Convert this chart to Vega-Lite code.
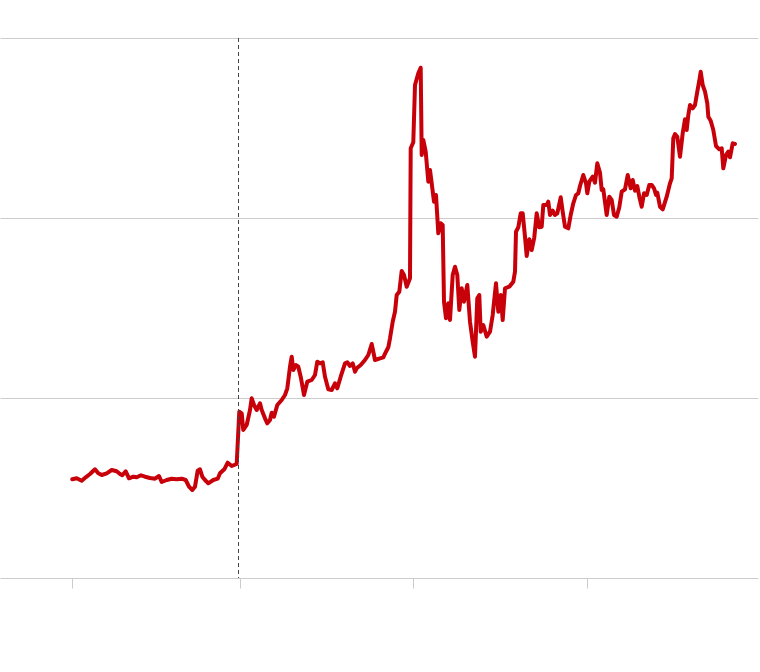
{
  "$schema": "https://vega.github.io/schema/vega-lite/v6.json",
  "width": 758,
  "height": 540,
  "autosize": {"type": "none"},
  "padding": {"top": 38, "left": 0, "right": 2, "bottom": 94},
  "background": "white",
  "config": {"view": {"stroke": null}},
  "layer": [
    {
      "data": {"values": [
        {"t":72.3,"v":98.7},{"t":76.7,"v":99.7},{"t":81.7,"v":97.3},{"t":85.7,"v":100.7},{"t":90,"v":104},{"t":95,"v":108.7},{"t":98.3,"v":104.7},{"t":101.7,"v":103},{"t":106.7,"v":104.7},{"t":111.7,"v":108},{"t":116.7,"v":106.7},{"t":120,"v":104},{"t":122.3,"v":102.7},{"t":125.7,"v":106.7},{"t":129,"v":99.7},{"t":133.3,"v":101.3},{"t":136.7,"v":100.7},{"t":141,"v":102.7},{"t":145,"v":101.3},{"t":150,"v":100},{"t":155,"v":99.3},{"t":159,"v":102},{"t":161.7,"v":96},{"t":166.7,"v":98},{"t":171.7,"v":99.3},{"t":176.7,"v":98.7},{"t":181.7,"v":99.3},{"t":185.7,"v":98},{"t":189,"v":91.3},{"t":192.3,"v":88},{"t":195,"v":91.3},{"t":197.7,"v":107.3},{"t":200,"v":108.7},{"t":202.3,"v":101.3},{"t":205,"v":98},{"t":208.3,"v":94.7},{"t":213.3,"v":98},{"t":217.7,"v":99.3},{"t":220,"v":104.7},{"t":224.3,"v":108.7},{"t":227.7,"v":115.3},{"t":231.7,"v":112},{"t":236.7,"v":114},
        {"t":239.3,"v":166.3},{"t":241.7,"v":164.7},{"t":243.3,"v":148},{"t":246.7,"v":153},{"t":250,"v":168},{"t":251.7,"v":179.7},{"t":254,"v":173},{"t":256.7,"v":168},{"t":260,"v":174.7},{"t":261.7,"v":168},{"t":265,"v":159.7},{"t":267.3,"v":154.7},{"t":270,"v":158},{"t":271.7,"v":165.3},{"t":274,"v":161.3},{"t":277.3,"v":173},{"t":281.7,"v":178},{"t":285,"v":183},{"t":287.3,"v":189.7},{"t":290,"v":211.3},{"t":291.7,"v":221.3},{"t":293.3,"v":208},{"t":296,"v":213},{"t":298.3,"v":211.3},{"t":300.7,"v":201.3},{"t":304,"v":183},{"t":307.3,"v":196.3},{"t":311.7,"v":198},{"t":315,"v":203},{"t":317.3,"v":216.3},{"t":320,"v":214.7},{"t":322.7,"v":215.7},{"t":325,"v":201.3},{"t":328.3,"v":188.7},{"t":331.7,"v":188},{"t":335,"v":194.7},{"t":337.3,"v":189.7},{"t":340.7,"v":201.3},{"t":345,"v":214.7},{"t":347.3,"v":215.7},{"t":350,"v":212},{"t":352.7,"v":214.7},{"t":355,"v":206.3},{"t":356.7,"v":209.7},{"t":360.7,"v":213},{"t":365,"v":218},{"t":368.3,"v":223},{"t":371.7,"v":234},{"t":375,"v":218},{"t":380,"v":219.7},{"t":383.3,"v":220.7},{"t":386,"v":226.3},{"t":388.3,"v":230.7},{"t":390,"v":239.7},
        {"t":392.7,"v":256.3},{"t":395,"v":266.3},{"t":396.7,"v":283},{"t":399.3,"v":286.3},{"t":401.7,"v":307},{"t":404,"v":303},{"t":406.7,"v":291.3},{"t":410,"v":299.7},{"t":410.7,"v":429.7},{"t":413.3,"v":435.7},{"t":415,"v":493},{"t":418.3,"v":504.7},{"t":420.7,"v":510.3},{"t":421.7,"v":423},{"t":423.3,"v":438},{"t":425.7,"v":426.3},{"t":428.3,"v":396.3},{"t":430,"v":408},{"t":431.7,"v":394.7},{"t":434,"v":376.3},{"t":436,"v":383},{"t":438.3,"v":344.7},{"t":440.7,"v":354.7},{"t":442.7,"v":353},{"t":444,"v":276.3},{"t":446,"v":259.7},{"t":448.3,"v":274.7},{"t":450,"v":258},{"t":452.7,"v":303},{"t":455,"v":311.3},{"t":457.3,"v":303},{"t":459.3,"v":268},{"t":461.7,"v":289.7},{"t":464,"v":276.3},{"t":467.3,"v":293},{"t":470,"v":256.3},{"t":472.7,"v":236.3},{"t":475,"v":221.3},{"t":477.3,"v":279.7},{"t":479.3,"v":283},{"t":480.7,"v":246.3},{"t":483.3,"v":253},{"t":486.7,"v":241.3},{"t":490,"v":246.3},{"t":492.7,"v":263},{"t":496,"v":294.7},{"t":498.3,"v":266.3},{"t":500.7,"v":283},{"t":502.7,"v":258},{"t":505,"v":289.7},{"t":509.3,"v":291.3},{"t":513.3,"v":296.3},{"t":515,"v":306.3},{"t":516,"v":346.3},{"t":518.3,"v":350.7},
        {"t":520.7,"v":364.7},{"t":522.7,"v":364.7},{"t":525,"v":341.3},{"t":526.7,"v":322},{"t":529.3,"v":338.7},{"t":531.7,"v":328},{"t":534.3,"v":340.7},{"t":536.7,"v":364.7},{"t":539.3,"v":350.7},{"t":541.7,"v":351.3},{"t":543.3,"v":373},{"t":546.7,"v":373},{"t":548.3,"v":376.3},{"t":550,"v":363},{"t":552.7,"v":367.3},{"t":555,"v":363},{"t":557.3,"v":364.7},{"t":560.7,"v":380.7},{"t":562.7,"v":366.3},{"t":565,"v":351.3},{"t":568.3,"v":349.7},{"t":570.7,"v":363},{"t":573.3,"v":374.7},{"t":576,"v":383},{"t":578.3,"v":384.7},{"t":580,"v":392},{"t":583.3,"v":403},{"t":586,"v":394.7},{"t":587.3,"v":384.7},{"t":589.3,"v":396.3},{"t":592.7,"v":401.3},{"t":595,"v":395.3},{"t":597.3,"v":414.7},{"t":600,"v":405.3},{"t":601.7,"v":388},{"t":603.3,"v":388.7},{"t":606.7,"v":363},{"t":609.3,"v":381.3},{"t":611.7,"v":378},{"t":614,"v":363},{"t":616.7,"v":361.3},{"t":619.3,"v":370.7},{"t":621.7,"v":386.3},{"t":625,"v":388.7},{"t":627.7,"v":403},
        {"t":630.7,"v":389.7},{"t":632.7,"v":398},{"t":635,"v":387.3},{"t":637.3,"v":392},{"t":639.3,"v":381.3},{"t":641.7,"v":371.3},{"t":644,"v":384.7},{"t":646.7,"v":383},{"t":649.3,"v":393},{"t":651.7,"v":393},{"t":654,"v":389.7},{"t":656,"v":383},{"t":657.3,"v":385.3},{"t":660,"v":371.3},{"t":662.7,"v":368.7},{"t":666.7,"v":381.3},{"t":670,"v":394.7},{"t":671.7,"v":399.7},{"t":673.3,"v":439.7},{"t":675,"v":444},{"t":677.3,"v":441.3},{"t":680,"v":421.3},{"t":682.7,"v":444.7},{"t":685,"v":458.7},{"t":686.7,"v":448},{"t":688.3,"v":463},{"t":690,"v":473},{"t":692.7,"v":469.7},{"t":695,"v":473},{"t":697.3,"v":486.3},{"t":699.3,"v":497.3},{"t":700.7,"v":506.3},{"t":702.7,"v":493},{"t":705,"v":486.3},{"t":707.3,"v":474.7},{"t":708.3,"v":461.3},{"t":710.7,"v":457.3},{"t":713.3,"v":448},{"t":716,"v":432},{"t":719.3,"v":428.7},{"t":721.7,"v":429.7},{"t":723.3,"v":409.7},{"t":726,"v":423},{"t":728.3,"v":426.3},{"t":730,"v":420.7},{"t":732.7,"v":434.7},{"t":735,"v":434}
      ]},
      "mark": {"type": "line", "color": "#c8000a", "strokeWidth": 4, "strokeJoin": "round", "strokeCap": "round"},
      "encoding": {
        "x": {"field": "t", "type": "quantitative", "scale": {"domain": [0, 758], "nice": false, "zero": false},
          "axis": {"values": [72, 240, 413, 587], "labels": false, "title": null, "domain": false, "grid": false, "ticks": true, "tickColor": "#cccccc", "tickSize": 10, "tickWidth": 1}},
        "y": {"field": "v", "type": "quantitative", "scale": {"domain": [0, 540], "nice": false},
          "axis": {"values": [0, 180, 360, 540], "labels": false, "title": null, "domain": false, "ticks": false, "grid": true, "gridColor": "#cccccc", "gridWidth": 1}}
      }
    },
    {
      "data": {"values": [{"t": 238.5}]},
      "mark": {"type": "rule", "color": "#444444", "strokeWidth": 1, "strokeDash": [4, 3]},
      "encoding": {"x": {"field": "t", "type": "quantitative"}}
    }
  ]
}
